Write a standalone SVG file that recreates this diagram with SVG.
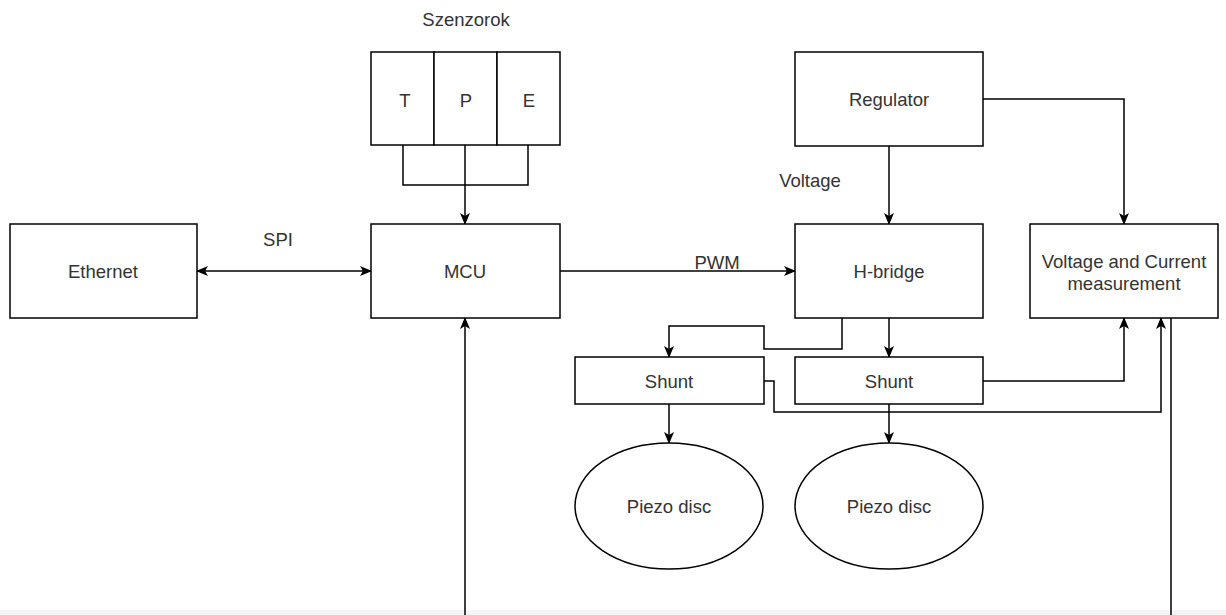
<svg xmlns="http://www.w3.org/2000/svg" width="1226" height="615" viewBox="0 0 1226 615">
<style>
.box{fill:#fff;stroke:#000;stroke-width:1.5}
.ln{fill:none;stroke:#000;stroke-width:1.5}
.t{font-family:"Liberation Sans",Arial,sans-serif;font-size:18.5px;fill:#333;text-anchor:middle;dominant-baseline:central}
</style>
<defs>
<marker id="ar" viewBox="0 0 12 10" refX="11" refY="5" markerWidth="12" markerHeight="10" markerUnits="userSpaceOnUse" orient="auto-start-reverse">
<path d="M0,0 L12,5 L0,10 L3,5 z" fill="#000"/>
</marker>
</defs>
<rect x="0" y="0" width="1226" height="615" fill="#fff"/>
<rect x="0" y="610" width="1226" height="5" fill="#f4f4f4"/>
<g id="connectors">
<path class="ln" d="M403,145 V185 H528 V145"/>
<path class="ln" d="M465,145 V224" marker-end="url(#ar)"/>
<path class="ln" d="M197,271 H371" marker-start="url(#ar)" marker-end="url(#ar)"/>
<path class="ln" d="M560,271 H795" marker-end="url(#ar)"/>
<path class="ln" d="M889,146 V224" marker-end="url(#ar)"/>
<path class="ln" d="M983,99 H1124 V224" marker-end="url(#ar)"/>
<path class="ln" d="M842,318 V349 H764 V326 H669 V357" marker-end="url(#ar)"/>
<path class="ln" d="M889,318 V357" marker-end="url(#ar)"/>
<path class="ln" d="M983,381 H1124 V318" marker-end="url(#ar)"/>
<path class="ln" d="M764,381 H774 V412 H1161 V318" marker-end="url(#ar)"/>
<path class="ln" d="M669,404 V443" marker-end="url(#ar)"/>
<path class="ln" d="M889,404 V443" marker-end="url(#ar)"/>
<path class="ln" d="M1171,318 V630 H465 V318" marker-end="url(#ar)"/>
</g>
<text class="t" x="466" y="19">Szenzorok</text>
<text class="t" x="278" y="239">SPI</text>
<text class="t" x="717" y="262">PWM</text>
<text class="t" x="810" y="180">Voltage</text>
<g id="sensors">
<rect class="box" x="371" y="52" width="63" height="93"/>
<rect class="box" x="434" y="52" width="63" height="93"/>
<rect class="box" x="497" y="52" width="63" height="93"/>
<text class="t" x="405" y="100">T</text>
<text class="t" x="466" y="100">P</text>
<text class="t" x="529" y="100">E</text>
</g>
<g id="ethernet"><rect class="box" x="10" y="224" width="187" height="94"/><text class="t" x="103" y="271">Ethernet</text></g>
<g id="mcu"><rect class="box" x="371" y="224" width="189" height="94"/><text class="t" x="465" y="271">MCU</text></g>
<g id="regulator"><rect class="box" x="795" y="52" width="188" height="94"/><text class="t" x="889" y="99">Regulator</text></g>
<g id="hbridge"><rect class="box" x="795" y="224" width="188" height="94"/><text class="t" x="889" y="271">H-bridge</text></g>
<g id="vcm"><rect class="box" x="1030" y="224" width="188" height="94"/><text class="t" x="1124" y="261">Voltage and Current</text><text class="t" x="1124" y="283">measurement</text></g>
<g id="shunt1"><rect class="box" x="575" y="357" width="189" height="47"/><text class="t" x="669" y="381">Shunt</text></g>
<g id="shunt2"><rect class="box" x="795" y="357" width="188" height="47"/><text class="t" x="889" y="381">Shunt</text></g>
<g id="piezo1"><ellipse class="box" cx="669" cy="506" rx="94" ry="63"/><text class="t" x="669" y="506">Piezo disc</text></g>
<g id="piezo2"><ellipse class="box" cx="889" cy="506" rx="94" ry="63"/><text class="t" x="889" y="506">Piezo disc</text></g>
</svg>
